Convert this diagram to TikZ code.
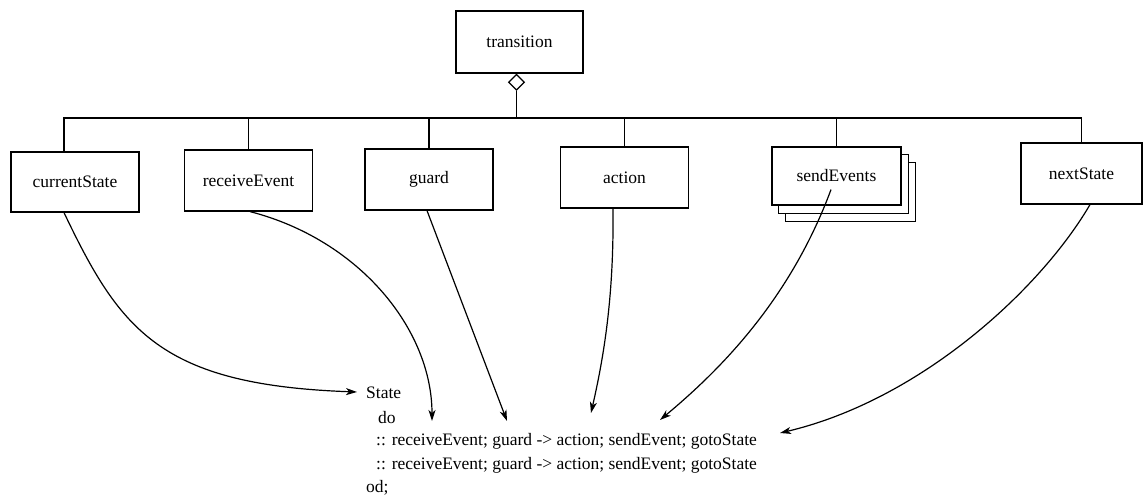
\documentclass[tikz,border=0pt]{standalone}
\usepackage{fontspec}
\setmainfont{Liberation Serif}
\usetikzlibrary{arrows.meta, shapes.geometric, backgrounds}

\tikzset{
  part/.style={draw, line width=1.2pt, fill=white, minimum width=128pt, minimum height=60pt, inner sep=0pt},
  codeline/.style={anchor=west, inner sep=0pt},
  flow/.style={line width=1.2pt, -{Stealth[length=11pt, width=7pt, inset=3pt]}},
  link/.style={line width=1.2pt}
}

\begin{document}
\begin{tikzpicture}[x=1pt, y=-1pt, font=\fontsize{17.5}{22}\selectfont]
  \useasboundingbox (0,0) rectangle (1145,502);

  % --- Aggregate ---
  \node[part, minimum width=127pt, minimum height=62pt] (trans) at (519.5,42) {transition};
  \node[draw, line width=1.2pt, fill=white, diamond, minimum width=16pt, minimum height=16pt, inner sep=0pt, anchor=north] (agg) at ([xshift=-3pt]trans.south) {};

  % --- Parts ---
  \node[part] (cur) at (75,182) {currentState};
  \node[part, minimum height=61pt] (recv) at (248.5,180.5) {receiveEvent};
  \node[part, minimum height=61pt] (guard) at (429,179.5) {guard};
  \node[part, minimum height=61pt] (action) at (624.5,177.5) {action};
  \node[part, minimum width=129pt, minimum height=58pt] (send) at (836.5,176) {sendEvents};
  \node[part, minimum width=121pt, minimum height=61pt] (next) at (1081.5,173.5) {nextState};

  % stacked copies behind sendEvents
  \begin{scope}[on background layer]
    \draw[link, fill=white] ([shift={(14,16)}]send.south west) rectangle ([shift={(14,16)}]send.north east);
    \draw[link, fill=white] ([shift={(7,8)}]send.south west) rectangle ([shift={(7,8)}]send.north east);
  \end{scope}

  % --- Tree lines ---
  \coordinate (trunk) at (agg.south |- 0,118);
  \draw[link] (agg.south) -- (trunk);
  \draw[link] ([xshift=-11pt]cur.north) |- (trunk) -| (next.north);
  \foreach \p in {recv, guard, action, send}
    \draw[link] (\p.north) -- (\p.north |- trunk);

  % --- Code ---
  \node[codeline] (state) at (366,393) {State};
  \node[codeline] (do) at (378,418) {do};
  \node[codeline] (alt1) at (376,441) {:: receiveEvent; guard -> action; sendEvent; gotoState};
  \node[codeline] (alt2) at (376,465) {:: receiveEvent; guard -> action; sendEvent; gotoState};
  \node[codeline] (od) at (366,488) {od;};

  % arrow targets
  \coordinate (inState) at (357,392);
  \coordinate (inRecv) at (432,421);
  \coordinate (inGuard) at (507,421);
  \coordinate (inAction) at (591,413);
  \coordinate (inSend) at (660,420);
  \coordinate (inNext) at (780,433);

  % --- Mappings ---
  \draw[flow] ([xshift=-11pt]cur.south) .. controls (120,330) and (160,385) .. (inState);
  \draw[flow] ([xshift=1.5pt]recv.south) .. controls (360,240) and (432,330) .. (inRecv);
  \draw[flow] ([xshift=-2pt]guard.south) -- (inGuard);
  \draw[flow] ([xshift=-11.5pt]action.south) .. controls (614,300) and (603,360) .. (inAction);
  \draw[flow] ([xshift=-5.5pt, yshift=16pt]send.south) .. controls (790,300) and (720,370) .. (inSend);
  \draw[flow] ([xshift=8.5pt]next.south) .. controls (1040,290) and (920,400) .. (inNext);
\end{tikzpicture}
\end{document}
